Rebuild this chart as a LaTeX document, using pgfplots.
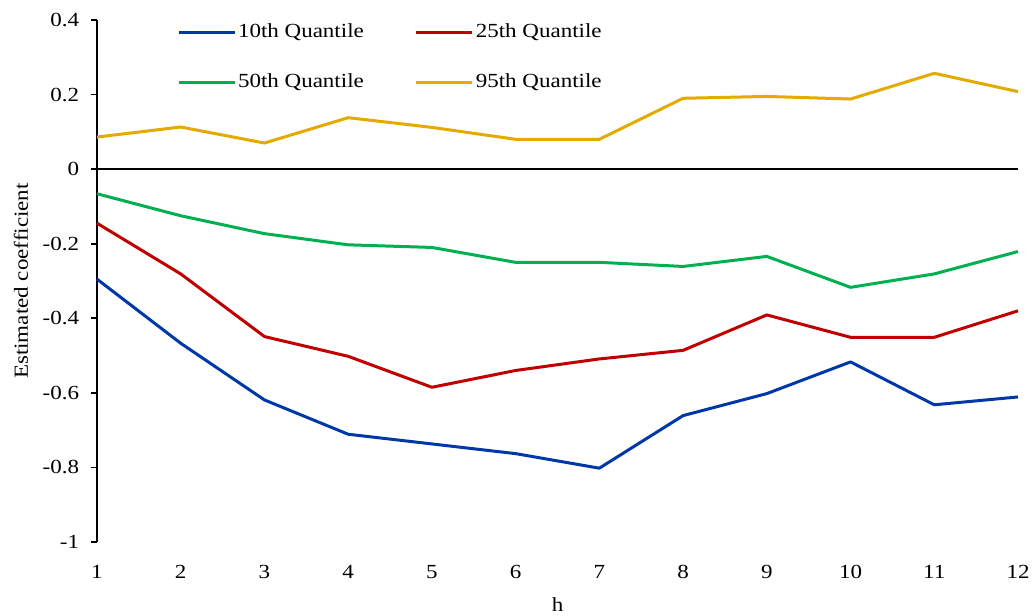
\documentclass[border=0pt]{standalone}
\usepackage{fontspec}
\setmainfont{Liberation Serif}[FakeStretch=1.15]
\usepackage{pgfplots}
\pgfplotsset{compat=1.18}
\definecolor{qblue}{RGB}{0,56,168}
\definecolor{qred}{RGB}{192,0,0}
\definecolor{qgreen}{RGB}{0,176,80}
\definecolor{qgold}{RGB}{228,170,0}
\begin{document}
\fontsize{20bp}{24bp}\selectfont
\begin{tikzpicture}
\useasboundingbox (-97bp,-74bp) rectangle (939bp,542bp);
\begin{axis}[
  scale only axis,
  width=921bp, height=522bp,
  at={(0,0)}, anchor=south west,
  xmin=1, xmax=12, ymin=-1, ymax=0.4,
  clip=false,
  axis y line*=left,
  axis x line*=bottom,
  axis line style={-, line width=1.6bp, black},
  x axis line style={draw=none},
  xtick={1,2,3,4,5,6,7,8,9,10,11,12},
  xticklabels={1,2,3,4,5,6,7,8,9,10,11,12},
  ytick={-1,-0.8,-0.6,-0.4,-0.2,0,0.2,0.4},
  yticklabels={-1,-0.8,-0.6,-0.4,-0.2,0,0.2,0.4},
  tick align=outside,
  major tick length=6bp,
  xtick style={draw=none},
  ytick style={black, line width=1.6bp},
  x tick label style={anchor=base, yshift=-30bp},
  y tick label style={anchor=east, xshift=-5bp},
  xlabel={h},
  xlabel style={at={(axis description cs:0.5,-0.1341)}, anchor=base},
  ylabel={Estimated coefficient},
  ylabel style={at={(axis description cs:-0.0825,0.5)}, anchor=center, rotate=0},
  legend columns=2,
  legend cell align=left,
  legend image code/.code={\draw[#1, line width=3bp] (0bp,0bp) -- (56bp,0bp);},
  legend style={draw=none, fill=none, inner sep=0pt, outer sep=0pt,
    at={(rel axis cs:0.0869,1)}, anchor=north west, yshift=-2bp,
    row sep=29bp,
    /tikz/every even column/.append style={column sep=49bp}},
  every axis plot/.append style={line width=3bp, line join=round},
]
\addplot[black, line width=1.6bp, forget plot] coordinates {(1,0) (12,0)};
\addplot[qblue] coordinates {
(1,-0.295) (2,-0.467) (3,-0.619) (4,-0.711) (5,-0.737) (6,-0.763)
(7,-0.802) (8,-0.661) (9,-0.602) (10,-0.517) (11,-0.632) (12,-0.611)};
\addlegendentry{10th Quantile}
\addplot[qred] coordinates {
(1,-0.145) (2,-0.281) (3,-0.449) (4,-0.502) (5,-0.585) (6,-0.540)
(7,-0.509) (8,-0.486) (9,-0.391) (10,-0.451) (11,-0.451) (12,-0.380)};
\addlegendentry{25th Quantile}
\addplot[qgreen] coordinates {
(1,-0.066) (2,-0.125) (3,-0.173) (4,-0.203) (5,-0.210) (6,-0.250)
(7,-0.250) (8,-0.261) (9,-0.234) (10,-0.317) (11,-0.281) (12,-0.221)};
\addlegendentry{50th Quantile}
\addplot[qgold] coordinates {
(1,0.086) (2,0.113) (3,0.070) (4,0.138) (5,0.112) (6,0.080)
(7,0.080) (8,0.190) (9,0.195) (10,0.188) (11,0.257) (12,0.208)};
\addlegendentry{95th Quantile}
\end{axis}
\end{tikzpicture}
\end{document}
